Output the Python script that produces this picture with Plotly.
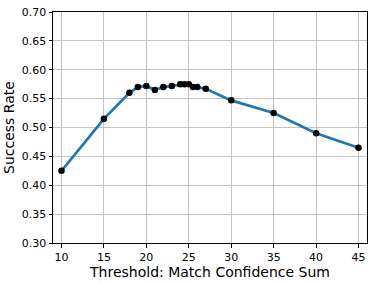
import plotly.graph_objects as go

thresholds = [10, 15, 18, 19, 20, 21, 22, 23, 24, 24.5, 25, 25.5, 26, 27, 30, 35, 40, 45]
success_rate = [0.425, 0.515, 0.560, 0.570, 0.572, 0.565, 0.570, 0.572, 0.575, 0.575, 0.575,
                0.570, 0.570, 0.567, 0.547, 0.525, 0.490, 0.465]
x_ticks = [10, 15, 20, 25, 30, 35, 40, 45]
y_ticks = [0.30, 0.35, 0.40, 0.45, 0.50, 0.55, 0.60, 0.65, 0.70]

fig = go.Figure()
fig.add_trace(go.Scatter(
    x=thresholds, y=success_rate, mode="lines+markers",
    line=dict(color="#1f77b4", width=2.7),
    marker=dict(color="black", size=6.5),
    showlegend=False,
))

axis_common = dict(
    showline=True, linecolor="black", linewidth=1, mirror=True,
    ticks="outside", ticklen=3.5, tickcolor="black", tickwidth=1,
    showgrid=True, gridcolor="#c4c4c4", gridwidth=1, zeroline=False,
    tickfont=dict(family="DejaVu Sans", size=11, color="black"),
)

fig.update_layout(
    width=374, height=284,
    margin=dict(l=53, r=6, t=10, b=41),
    plot_bgcolor="white", paper_bgcolor="white",
    xaxis=dict(range=[9, 46], tickvals=x_ticks,
               title=dict(text="Threshold: Match Confidence Sum", standoff=3,
                          font=dict(family="DejaVu Sans", size=14, color="black")),
               **axis_common),
    yaxis=dict(range=[0.30, 0.70], tickvals=y_ticks, tickformat=".2f",
               title=dict(text="Success Rate", standoff=3,
                          font=dict(family="DejaVu Sans", size=14, color="black")),
               **axis_common),
)

fig.write_html("out.html", config={"displayModeBar": False},
               post_script="document.body.style.margin='0';")
